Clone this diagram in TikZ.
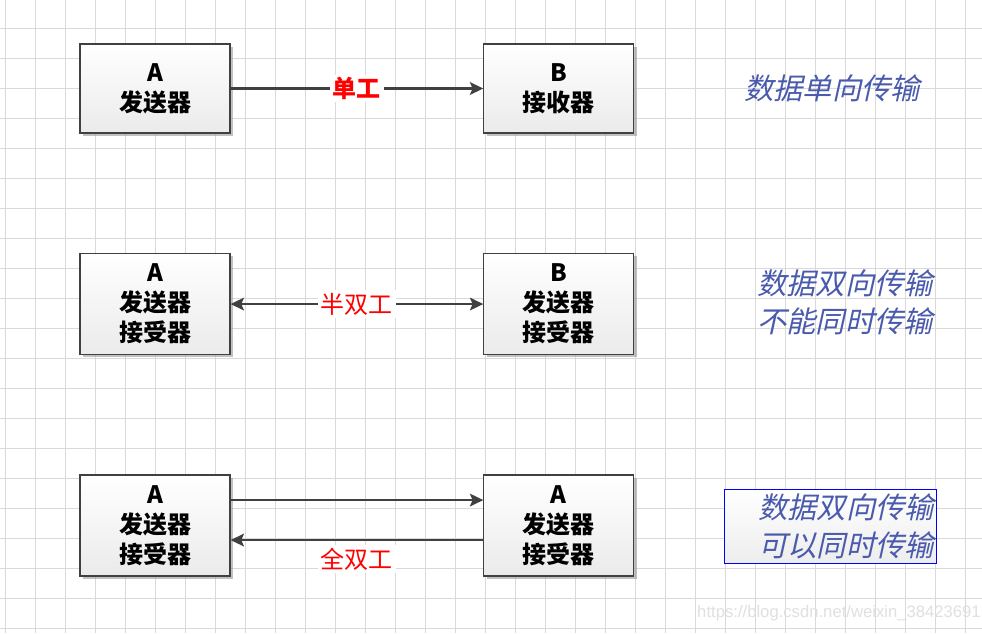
\documentclass[tikz,border=0pt]{standalone}
\usepackage{fontspec}
\setmainfont{Noto Sans CJK SC}
\newfontfamily\noteit[FakeSlant=0.22]{Noto Sans CJK SC}
\newfontfamily\wmfont{Liberation Sans}
\definecolor{gridGray}{HTML}{D9D9D9}
\definecolor{boxLine}{HTML}{404040}
\definecolor{noteBlue}{HTML}{4A5BAE}
\definecolor{markRed}{HTML}{FF0000}
\usetikzlibrary{arrows.meta, positioning, calc, shadows}

\begin{document}
\begin{tikzpicture}[x=0.75pt, y=-0.75pt,
  devbox/.style={draw=boxLine, line width=0.9pt, top color=white, bottom color=black!8,
    minimum width=112.5pt, align=center, font=\fontsize{18}{22.5}\selectfont\bfseries,
    drop shadow={shadow xshift=2.2pt, shadow yshift=-2.2pt, fill=black!40, opacity=0.6}},
  arr/.style={-{Stealth[length=10pt, width=9.5pt, inset=2pt]}, line width=1.6pt, draw=boxLine},
  dblarr/.style={arr, {Stealth[length=10pt, width=9.5pt, inset=2pt]}-{Stealth[length=10pt, width=9.5pt, inset=2pt]}},
  modelabel/.style={text=markRed, font=\fontsize{18}{20}\selectfont, fill=white, inner sep=2pt},
  note/.style={text=noteBlue, align=center, font=\noteit\fontsize{22}{28.5}\selectfont}]

  \useasboundingbox (0,0) rectangle (982,633);
  \fill[white] (0,0) rectangle (982,633);

  % grid
  \foreach \gx in {5,35,...,965}
    \draw[gridGray, line width=0.75pt] (\gx,0) -- (\gx,633);
  \foreach \gy in {28,58,...,628}
    \draw[gridGray, line width=0.75pt] (0,\gy) -- (982,\gy);

  % simplex
  \node[devbox, minimum height=66.75pt] (sendA) at (155,88.5) {A\\发送器};
  \node[devbox, minimum height=66.75pt, right=189.5pt of sendA] (recvB) {B\\接收器};
  \draw[arr] (sendA) -- node[modelabel, font=\fontsize{18}{20}\selectfont\bfseries] {单工} (recvB);

  % half duplex
  \node[devbox, minimum height=75.75pt, below=89.5pt of sendA] (halfA) {A\\发送器\\接受器};
  \node[devbox, minimum height=75.75pt, right=189.5pt of halfA] (halfB) {B\\发送器\\接受器};
  \draw[dblarr] (halfA) -- node[modelabel] {半双工} (halfB);

  % full duplex
  \node[devbox, minimum height=75.75pt, below=89.5pt of halfA] (fullA) {A\\发送器\\接受器};
  \node[devbox, minimum height=75.75pt, right=189.5pt of fullA] (fullB) {A\\发送器\\接受器};
  \draw[arr] ($(fullA.east)+(0,-25.5)$) -- ($(fullB.west)+(0,-25.5)$);
  \draw[arr] ($(fullB.west)+(0,14.5)$) -- node[modelabel, below=3pt] {全双工} ($(fullA.east)+(0,14.5)$);

  % notes
  \node[note] (oneway) at (832,88) {数据单向传输};
  \node[note] (halfnote) at (845,302) {数据双向传输\\不能同时传输};
  \node[note, draw=blue, line width=0.75pt, top color=white, bottom color=black!7,
    text width=156pt, align=right, inner sep=1.5pt, minimum height=55.5pt] (fullnote) at (830,526)
    {数据双向传输\\可以同时传输};

  \node[text=black!12, font=\wmfont\fontsize{12.5}{14}\selectfont] (mark) at (839,613)
    {https://blog.csdn.net/weixin\_38423691};
\end{tikzpicture}
\end{document}
